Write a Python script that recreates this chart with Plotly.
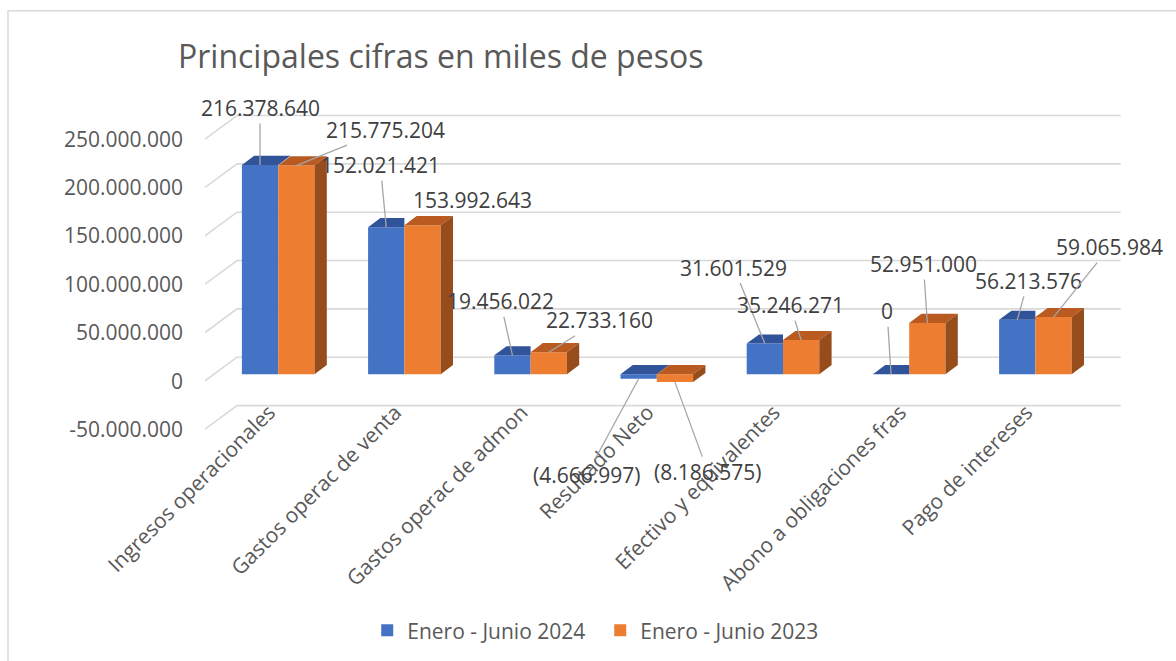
import plotly.graph_objects as go

# ---------------- data ----------------
categories = ["Ingresos operacionales", "Gastos operac de venta", "Gastos operac de admon",
              "Resultado Neto", "Efectivo y equivalentes", "Abono a obligaciones fras",
              "Pago de intereses"]
series_names = ["Enero - Junio 2024", "Enero - Junio 2023"]
serie_2024 = [216378640, 152021421, 19456022, -4666997, 31601529, 0, 56213576]
serie_2023 = [215775204, 153992643, 22733160, -8186575, 35246271, 52951000, 59065984]
y_ticks = [-50000000, 0, 50000000, 100000000, 150000000, 200000000, 250000000]

# ---------------- style / geometry ----------------
W, H = 1176, 661
ML, MR, MT, MB = 205, 54, 112, 228
PW, PH = W - ML - MR, H - MT - MB
PXU = 126.2                 # px per category unit
KY = 0.97e-6                # px per value unit
X0 = -0.58
X1 = X0 + PW / PXU
Y1 = (375 - MT) / KY
Y0 = Y1 - PH / KY

def dxu(px):
    return px / PXU

def dyu(px):
    return px / KY

BW = dxu(36.3)
DX, DY = dxu(12.3), dyu(9.2)

FRONT = ["#4472C4", "#ED7D31"]
TOP = ["#30539A", "#B95A20"]
SIDE = "#974C1C"
GRID = "#D9D9D9"
TXT = "#595959"
LBL = "#404040"
FONT = "Open Sans"

def fmt_label(v):
    s = f"{abs(v):,}".replace(",", ".")
    return f"({s})" if v < 0 else s

def fmt_tick(v):
    s = f"{abs(v):,}".replace(",", ".")
    return "-" + s if v < 0 else s

n = len(categories)
idx = list(range(n))
series = [serie_2024, serie_2023]
offsets = [-BW, 0.0]

fig = go.Figure()

# front faces (bars)
for s in range(2):
    fig.add_trace(go.Bar(
        x=idx, y=series[s], width=BW, offset=offsets[s], name=series_names[s],
        marker=dict(color=FRONT[s], line=dict(width=0)), showlegend=True,
        hoverinfo="skip"))

# top faces
for s in range(2):
    xs, ys = [], []
    for i in idx:
        v = series[s][i]
        top = max(v, 0)
        xl = i + offsets[s]
        xr = xl + BW
        if s == 0 and max(series[1][i], 0) > top:
            pts = [(xl, top), (xr, top), (xr, top + DY), (xl + DX, top + DY)]
        else:
            pts = [(xl, top), (xr, top), (xr + DX, top + DY), (xl + DX, top + DY)]
        pts.append(pts[0])
        xs += [p[0] for p in pts] + [None]
        ys += [p[1] for p in pts] + [None]
    fig.add_trace(go.Scatter(x=xs, y=ys, mode="lines", fill="toself", fillcolor=TOP[s],
                             line=dict(width=0, color=TOP[s]), showlegend=False,
                             hoverinfo="skip"))

# side faces (right series)
xs, ys = [], []
for i in idx:
    v = series[1][i]
    xsd = i + offsets[1] + BW
    pts = [(xsd, 0), (xsd, v), (xsd + DX, v + DY), (xsd + DX, DY), (xsd, 0)]
    xs += [p[0] for p in pts] + [None]
    ys += [p[1] for p in pts] + [None]
fig.add_trace(go.Scatter(x=xs, y=ys, mode="lines", fill="toself", fillcolor=SIDE,
                         line=dict(width=0, color=SIDE), showlegend=False, hoverinfo="skip"))

# gridlines: side wall diagonal + back wall
shapes = []
x_front = X0
x_back = X0 + dxu(32)
x_end = X0 + dxu(1120.7 - ML)
for t in y_ticks:
    yl = t - dyu(6.7)
    yb = t + dyu(17)
    shapes.append(dict(type="path", xref="x", yref="y", layer="below",
                       path=f"M{x_front},{yl} L{x_back},{yb} L{x_end},{yb}",
                       line=dict(color=GRID, width=1.6)))
# chart border
shapes.append(dict(type="rect", xref="paper", yref="paper", layer="below",
                   x0=(8 - ML) / PW, x1=(1200 - ML) / PW,
                   y0=(H - MB - 690) / PH, y1=(H - MB - 10.5) / PH,
                   line=dict(color=GRID, width=1.5), fillcolor="rgba(0,0,0,0)"))

# data labels
label_off = [
    [(0, -57), (-6, -62), (-12, -54), (-52, 96), (-31, -76), (-4, -63), (11, -39)],
    [(89, -36), (50, -25), (51, -32), (33, 90), (-11, -35), (-4, -59), (56, -70)],
]
label_arrow = [
    [True] * 7,
    [True, False, True, True, True, True, True],
]
annotations = []
for s in range(2):
    for i in idx:
        v = series[s][i]
        hx = i + offsets[s] + BW / 2
        ax, ay = label_off[s][i]
        if label_arrow[s][i]:
            annotations.append(dict(x=hx, y=v, xref="x", yref="y", text=fmt_label(v),
                                    showarrow=True, ax=ax, ay=ay, arrowhead=0,
                                    arrowwidth=1.3, arrowcolor="#A6A6A6", standoff=0,
                                    font=dict(family=FONT, size=21, color=LBL)))
        else:
            annotations.append(dict(x=hx, y=v, xref="x", yref="y", text=fmt_label(v),
                                    showarrow=False, xshift=ax, yshift=-ay,
                                    font=dict(family=FONT, size=21, color=LBL)))

fig.update_layout(
    width=W, height=H,
    margin=dict(l=ML, r=MR, t=MT, b=MB),
    paper_bgcolor="white", plot_bgcolor="white",
    barmode="overlay",
    title=dict(text="Principales cifras en miles de pesos", x=178 / W, xanchor="left",
               y=1 - 57 / H, yanchor="middle", xref="container", yref="container",
               font=dict(family=FONT, size=32, color=TXT)),
    xaxis=dict(range=[X0, X1], tickvals=idx, ticktext=categories, tickangle=-45,
               showgrid=False, zeroline=False, showline=False, ticks="",
               tickfont=dict(family=FONT, size=21, color=TXT),
               ticklabelstandoff=-37, ticklabelshift=-9),
    yaxis=dict(range=[Y0, Y1], tickvals=y_ticks, ticktext=[fmt_tick(t) for t in y_ticks],
               showgrid=False, zeroline=False, showline=False, ticks="",
               tickfont=dict(family=FONT, size=21, color=TXT),
               ticklabelshift=7, ticklabelstandoff=21),
    legend=dict(orientation="h", x=0.431, xanchor="center", y=(H - MB - 630.7) / PH,
                yanchor="middle", font=dict(family=FONT, size=21, color=TXT),
                bgcolor="rgba(0,0,0,0)", traceorder="normal", entrywidth=188),
    shapes=shapes,
    annotations=annotations,
    showlegend=True,
)

fig.write_html("out.html", config={"displayModeBar": False},
               post_script="document.body.style.margin='0';")
